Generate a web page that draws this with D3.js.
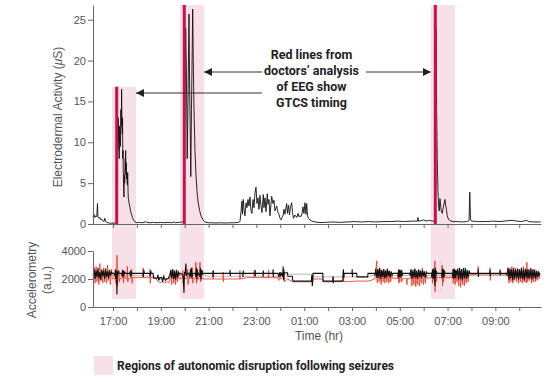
<!DOCTYPE html>
<html><head><meta charset="utf-8">
<script src="https://cdn.jsdelivr.net/npm/d3@7"></script>
<style>
html,body{margin:0;padding:0;background:#fff;}
svg{display:block;}
</style></head>
<body>
<svg id="c" width="558" height="382"></svg>
<script>
// ---------- DATA ----------
const hourTicks = [17,18,19,20,21,22,23,24,25,26,27,28,29,30,31,32,33,34];
const labelHours = [17,19,21,23,25,27,29,31,33];
const hourLabels = ["17:00","19:00","21:00","23:00","01:00","03:00","05:00","07:00","09:00"];
const edaTicks = [0,5,10,15,20,25];
const accTicks = [0,2000,4000];

const seizureTimes = [17.155, 19.983, 30.486];
const seizureTops = [16.8, 26.8, 26.8];
const regionStart = [16.958, 19.803, 30.305];
const regionEnd = [17.962, 20.808, 31.31];
const annotationLines = ["Red lines from","doctors\u2019 analysis","of EEG show","GTCS timing"];
const legendLabel = "Regions of autonomic disruption following seizures";

const eda = [
[16.16,0.9],[16.20,1.2],[16.24,0.8],[16.28,1.0],[16.32,0.9],[16.35,2.5],[16.37,0.9],[16.41,0.7],[16.45,0.8],[16.49,0.5],[16.53,0.6],[16.57,0.4],[16.62,0.3],[16.66,0.7],[16.69,0.3],[16.74,0.2],[16.85,0.1],[16.95,0.1],[17.05,0.1],[17.14,0.15],
[17.16,0.3],[17.18,5],[17.20,12.5],[17.21,9],[17.22,13],[17.235,10],[17.25,12],[17.26,8],[17.275,11],[17.29,12],[17.31,9.5],[17.33,14],[17.35,12],[17.36,16.5],[17.375,12],[17.39,11],[17.40,13],[17.41,8],[17.42,9],[17.43,6.5],[17.445,4.5],[17.46,3.3],[17.475,6],[17.49,5],[17.51,8],[17.52,6.5],[17.53,9],[17.54,6],[17.556,7.5],[17.57,5.5],[17.586,6],[17.60,4.8],[17.615,6.3],[17.63,4],[17.64,3.2],[17.67,2.6],[17.71,2],[17.74,1.5],[17.774,1.2],[17.81,0.8],[17.858,0.5],[17.92,0.25],[18.0,0.15],
[18.1,0.2],[18.2,0.15],[18.3,0.2],[18.35,0.3],[18.4,0.2],[18.55,0.15],[18.7,0.2],[18.85,0.15],[19.0,0.2],[19.15,0.15],[19.3,0.2],[19.45,0.15],[19.55,0.25],[19.6,0.15],[19.75,0.2],[19.9,0.25],[19.97,0.3],
[20.004,12],[20.042,24],[20.075,18],[20.105,8],[20.138,15],[20.18,25.7],[20.209,16],[20.234,11],[20.255,5.8],[20.284,14],[20.335,26.3],[20.36,20],[20.389,14],[20.43,9],[20.473,6],[20.515,4],[20.556,2.8],[20.62,1.7],[20.682,1],[20.766,0.5],[20.849,0.25],[20.975,0.15],
[21.1,0.15],[21.3,0.12],[21.5,0.15],[21.7,0.12],[21.9,0.15],[22.1,0.15],[22.25,0.2],[22.314,0.3],
[22.356,1.5],[22.397,2.8],[22.418,1.2],[22.452,3.0],[22.481,1.8],[22.523,1.0],[22.565,2.6],[22.607,2.0],[22.648,3.0],[22.69,2.2],[22.732,3.3],[22.774,1.6],[22.816,1.3],[22.858,3.0],[22.899,2.0],[22.941,3.8],[22.983,4.5],[23.025,2.5],[23.067,3.2],[23.109,1.8],[23.15,3.5],[23.192,2.2],[23.234,1.4],[23.289,3.6],[23.318,2.0],[23.36,3.2],[23.401,1.5],[23.456,3.7],[23.485,2.4],[23.527,3.0],[23.569,1.0],[23.64,3.4],[23.695,2.5],[23.736,2.9],[23.778,1.6],[23.849,2.2],[23.904,1.4],[23.946,1.2],[23.987,0.7],[24.029,0.5],[24.071,0.8],[24.113,1.0],[24.155,1.8],[24.196,1.2],[24.268,2.5],[24.301,1.3],[24.343,2.3],[24.385,1.1],[24.427,2.1],[24.477,2.6],[24.51,1.4],[24.552,0.7],[24.615,1.1],[24.657,0.9],[24.699,0.8],[24.74,1.3],[24.782,0.9],[24.824,1.0],[24.866,0.9],[24.908,1.2],[24.95,2.1],[24.991,1.3],[25.033,2.6],[25.075,1.2],[25.105,2.5],[25.138,1.0],[25.18,0.7],[25.243,0.5],[25.326,0.35],[25.452,0.25],[25.661,0.18],
[25.9,0.2],[26.2,0.25],[26.5,0.2],[26.8,0.25],[27.1,0.3],[27.4,0.25],[27.7,0.3],[28.0,0.25],[28.3,0.3],[28.6,0.3],[28.9,0.35],[29.2,0.3],[29.5,0.35],[29.74,0.35],[29.76,0.8],[29.78,0.35],[29.9,0.4],[30.0,0.5],[30.1,0.35],[30.2,0.45],[30.3,0.4],[30.4,0.35],[30.47,0.4],
[30.514,24],[30.543,14],[30.568,8],[30.598,4],[30.627,2.2],[30.652,1.6],[30.682,3.1],[30.711,2.2],[30.736,1.6],[30.778,1.3],[30.82,2.0],[30.862,2.6],[30.891,3.0],[30.92,2.3],[30.954,1.8],[30.987,1.0],[31.037,0.6],[31.1,0.4],[31.226,0.3],
[31.4,0.3],[31.6,0.25],[31.8,0.3],[31.9,0.4],[31.93,3.9],[31.96,0.6],[32.0,0.35],
[32.3,0.3],[32.6,0.3],[32.9,0.35],[33.2,0.3],[33.5,0.4],[33.7,0.45],[33.9,0.35],[34.1,0.3],[34.3,0.45],[34.4,0.3],[34.6,0.25],[34.9,0.25]
];

const accGray = [[16.17,2250],[17.9,2250],[18.7,2200],[18.8,2000],[19.35,2000],[19.4,2250],[20.8,2250],[21.0,2200],[24.0,2200],[24.1,2350],[25.3,2350],[25.4,2150],[27.7,2150],[27.8,2250],[34.87,2250]];

const accRed = [
[16.17,2100],[16.21,2800],[16.25,1700],[16.29,2900],[16.33,1800],[16.37,2500],[16.41,1600],[16.45,3100],[16.49,1900],[16.53,2600],[16.57,1700],[16.61,2800],[16.65,1800],[16.69,2500],[16.73,1700],[16.77,3000],[16.81,1900],[16.85,2400],[16.89,1600],[16.93,2700],[16.97,2000],
[17.02,2050],[17.08,2000],[17.10,2500],[17.12,1700],[17.15,2000],[17.17,3700],[17.19,1500],[17.21,2100],[17.25,2600],[17.27,1800],[17.29,2050],[17.38,2050],[17.42,2600],[17.44,1700],[17.46,2400],[17.50,2050],[17.58,2050],[17.60,2900],[17.62,1800],[17.64,2050],[17.76,2050],[17.78,2700],[17.80,1700],[17.82,2100],
[18.25,2100],[18.26,2800],[18.27,2100],[18.54,2100],[18.55,2700],[18.56,1700],[18.57,2100],[18.80,2100],[18.84,1900],[18.96,1750],[19.08,1800],[19.14,1700],[19.26,1800],[19.34,1750],
[19.38,2000],[19.42,2600],[19.46,1600],[19.50,2700],[19.54,1700],[19.58,2500],[19.62,1600],[19.66,2600],[19.70,1800],[19.74,2400],[19.78,2000],
[19.84,2050],[19.90,2050],[19.92,2600],[19.94,1700],[19.96,2050],[20.10,2050],[20.12,2700],[20.14,1600],[20.16,2050],[20.30,2050],[20.32,2800],[20.34,1700],[20.36,2050],[20.45,2050],[20.47,3200],[20.49,1700],[20.51,2300],[20.53,1900],[20.60,2050],[20.62,2700],[20.64,3200],[20.66,1800],[20.68,2400],[20.70,1900],[20.74,2100],[20.81,2000],
[21.18,2000],[21.19,2600],[21.20,2000],[21.60,2000],[21.61,2500],[21.62,1800],[21.63,2000],[22.30,2000],[22.31,2600],[22.32,2000],[22.60,2100],[22.90,2100],[22.91,2600],[22.92,2100],[23.50,2100],[23.51,2650],[23.52,2100],[23.90,2100],[23.94,1900],[24.00,2500],[24.02,2000],[24.14,2100],[24.16,2700],[24.18,1800],[24.30,2000],[24.53,1800],
[25.30,1800],[25.33,2000],[25.78,2000],[25.79,1800],[26.20,1800],[26.21,2200],[26.22,1800],[26.62,1850],[26.64,2500],[26.66,1800],[27.21,1850],[27.66,1850],[27.80,1900],[27.92,2000],
[27.96,2000],[28.00,2600],[28.04,3300],[28.06,1700],[28.10,2700],[28.14,1800],[28.18,2600],[28.22,1600],[28.26,2500],[28.30,1800],[28.34,2700],[28.38,1700],[28.42,2600],[28.46,1800],[28.50,2500],[28.54,1700],[28.58,2400],[28.62,1800],[28.66,2300],[28.71,2050],
[28.92,2050],[28.94,2600],[28.96,1700],[28.98,2500],[29.00,1800],[29.04,2400],[29.08,1800],[29.13,2050],[29.28,2050],[29.30,1600],[29.32,2050],
[29.43,2000],[29.47,2600],[29.51,1500],[29.55,2500],[29.59,1600],[29.63,2700],[29.67,1450],[29.71,2400],[29.75,1600],[29.79,2600],[29.83,1500],[29.87,2500],[29.91,1700],[29.95,2800],[29.99,1600],[30.03,2400],[30.07,1700],[30.11,2300],[30.14,2050],
[30.33,2100],[30.35,2500],[30.37,1700],[30.41,2400],[30.45,1800],[30.47,3300],[30.48,1100],[30.50,2600],[30.52,1800],[30.55,2100],[30.75,2100],[30.77,3000],[30.79,1500],[30.81,2500],[30.83,1800],[30.87,2400],[30.89,2100],[31.20,2100],[31.22,2700],[31.24,1700],[31.28,2600],[31.32,1600],[31.36,2500],[31.39,1800],
[31.42,2700],[31.46,1500],[31.50,2600],[31.54,1400],[31.58,2700],[31.62,1600],[31.66,2800],[31.70,1500],[31.74,2600],[31.78,1700],[31.82,2500],[31.86,1800],[31.90,2400],[31.94,2300],
[32.27,2350],[32.28,2900],[32.29,2350],[32.77,2350],[32.78,2800],[32.79,1900],[32.80,2350],[33.19,2350],[33.20,2700],[33.21,2350],[33.46,2350],
[33.49,2200],[33.53,2800],[33.57,1700],[33.61,2700],[33.65,1800],[33.69,2900],[33.73,1700],[33.77,2600],[33.81,1900],[33.85,2800],[33.89,1800],[33.93,2600],[33.97,1700],[34.01,2700],[34.05,1800],[34.09,2500],[34.13,1700],[34.17,2900],[34.21,1800],[34.25,2600],[34.29,1700],[34.32,3200],[34.35,1800],[34.39,2700],[34.43,1900],[34.47,2800],[34.51,1700],[34.55,2600],[34.59,1800],[34.63,2700],[34.67,1800],[34.71,2500],[34.75,1900],[34.79,2400],[34.83,2000],[34.87,2300]
];

const accBlack = [
[16.17,2300],[16.21,2700],[16.25,2000],[16.29,2600],[16.33,2150],[16.37,2800],[16.41,2050],[16.45,2500],[16.49,1900],[16.53,2700],[16.57,2200],[16.61,2600],[16.65,2000],[16.69,2750],[16.73,2150],[16.77,2550],[16.81,2050],[16.85,2650],[16.89,2250],[16.93,2500],[16.97,2400],
[17.03,2400],[17.08,2250],[17.10,2700],[17.12,2000],[17.14,2600],[17.165,900],[17.18,2500],[17.20,2300],[17.22,2600],[17.24,2400],[17.36,2400],[17.38,2200],[17.40,2650],[17.42,2150],[17.44,2600],[17.46,2300],[17.48,2550],[17.50,2400],[17.69,2400],[17.71,2300],[17.73,2600],[17.75,2150],[17.77,2550],[17.79,2400],
[18.25,2400],[18.27,2150],[18.29,2650],[18.31,2400],[18.54,2400],[18.56,2200],[18.58,2600],[18.60,2400],[18.68,2400],[18.70,2050],[18.84,2050],[18.88,2300],[18.92,1900],[18.96,2100],[19.04,2100],[19.08,1800],[19.12,2200],[19.20,1900],[19.24,2000],[19.32,2050],
[19.38,2300],[19.42,2650],[19.46,2050],[19.50,2700],[19.54,2000],[19.58,2600],[19.62,1950],[19.66,2650],[19.70,2100],[19.74,2500],[19.78,2350],
[19.84,2400],[19.88,2350],[19.93,2300],[19.97,1000],[19.99,2500],[20.01,2300],[20.05,3100],[20.07,2200],[20.09,2400],[20.18,2400],[20.22,2100],[20.24,2700],[20.26,2200],[20.28,2800],[20.30,2100],[20.34,2400],[20.43,2400],[20.47,2200],[20.49,2800],[20.51,2000],[20.53,2700],[20.55,2300],[20.59,2400],[20.64,2150],[20.66,2800],[20.68,2000],[20.70,2650],[20.72,2300],[20.74,2600],[20.76,2350],[20.81,2400],
[21.18,2400],[21.19,2150],[21.20,2600],[21.21,2400],[21.89,2400],[21.90,2650],[21.91,2200],[21.92,2400],[22.43,2400],[22.44,2150],[22.45,2600],[22.46,2400],[22.94,2400],[22.95,2650],[22.96,2200],[22.97,2400],[23.27,2400],[23.28,2150],[23.29,2600],[23.30,2400],[23.69,2400],[23.70,2700],[23.71,2150],[23.72,2400],[23.90,2400],[23.94,2150],[23.98,2500],[24.02,2200],[24.06,2450],[24.10,2150],[24.12,2900],[24.14,1900],[24.16,2450],[24.30,2450],[24.32,2200],[24.50,2200],[24.53,1850],
[25.30,1850],[25.32,2300],[25.34,1500],[25.36,1850],[25.37,2400],[25.78,2400],[25.79,1850],[26.20,1850],[26.21,2150],[26.22,1700],[26.23,1850],[26.62,1850],[26.63,2400],[26.64,2700],[26.66,2100],[26.68,2400],[27.0,2400],[27.01,2700],[27.02,2150],[27.03,2400],[27.2,2400],[27.21,2150],[27.66,2150],[27.67,2400],[27.92,2400],
[27.96,2300],[28.00,2750],[28.04,2050],[28.08,2700],[28.12,2100],[28.16,2800],[28.20,2000],[28.24,2650],[28.28,2150],[28.32,2700],[28.36,2050],[28.40,2600],[28.44,2100],[28.48,2750],[28.52,2200],[28.56,2600],[28.60,2100],[28.64,2550],[28.68,2300],[28.71,2400],
[28.92,2400],[28.94,2100],[28.96,2700],[28.98,2150],[29.00,2650],[29.02,2200],[29.04,2600],[29.06,2100],[29.08,2650],[29.10,2250],[29.13,2400],[29.40,2400],
[29.43,2300],[29.47,2700],[29.51,2000],[29.55,2650],[29.59,2100],[29.63,2750],[29.67,2050],[29.71,2600],[29.75,2000],[29.79,2700],[29.83,2150],[29.87,2600],[29.91,2050],[29.95,2650],[29.99,2200],[30.03,2550],[30.07,2100],[30.11,2500],[30.14,2400],
[30.33,2400],[30.35,2100],[30.37,2700],[30.39,2050],[30.41,2750],[30.43,2000],[30.45,2650],[30.47,1500],[30.49,2800],[30.51,2100],[30.53,2600],[30.55,2400],[30.75,2400],[30.77,2050],[30.79,2750],[30.81,2100],[30.83,2700],[30.85,2150],[30.87,2600],[30.89,2400],[31.20,2400],[31.22,2100],[31.24,2700],[31.26,2000],[31.28,2750],[31.30,2100],[31.32,2650],[31.34,2050],[31.36,2600],[31.39,2300],
[31.42,2750],[31.46,1950],[31.50,2800],[31.54,2000],[31.58,2700],[31.62,1900],[31.66,2750],[31.70,2050],[31.74,2800],[31.78,2000],[31.82,2650],[31.86,2100],[31.90,2600],[31.94,2400],
[32.27,2400],[32.28,2700],[32.29,2150],[32.30,2400],[32.77,2400],[32.78,2650],[32.79,2200],[32.80,2400],[33.19,2400],[33.20,2600],[33.21,2250],[33.22,2400],[33.46,2400],
[33.49,2300],[33.53,2800],[33.57,1950],[33.61,2750],[33.65,2050],[33.69,2700],[33.73,1900],[33.77,2800],[33.81,2000],[33.85,2650],[33.89,2100],[33.93,2750],[33.97,1950],[34.01,2700],[34.05,2050],[34.09,2800],[34.13,2000],[34.17,2650],[34.21,1900],[34.25,2750],[34.29,2100],[34.33,2700],[34.37,2000],[34.41,2650],[34.45,2050],[34.49,2750],[34.53,1950],[34.57,2700],[34.61,2100],[34.65,2650],[34.69,2000],[34.73,2600],[34.77,2150],[34.81,2550],[34.85,2300],[34.87,2400]
];

// ---------- CHART ----------
const svg = d3.select("#c");
const axisFont = "'Liberation Sans', Arial, Helvetica, sans-serif";
const boldFont = "Roboto, 'Open Sans', sans-serif";
const pink = "#f7e0e7";
const crimson = "#c4124a";

const x = d3.scaleLinear().domain([16.163, 34.91]).range([93, 541]);
const yEda = d3.scaleLinear().domain([0, 26.8]).range([224, 5]);
const yAcc = d3.scaleLinear().domain([0, 4000]).range([307, 251]);
const regionBottom = 570; // accelerometry units

// pink regions
svg.append("g").selectAll("rect").data(regionStart).join("rect")
  .attr("x", (d)=>x(d))
  .attr("width", (d,i)=>x(regionEnd[i]) - x(d))
  .attr("y", (d,i)=>yEda(seizureTops[i]))
  .attr("height", (d,i)=>yAcc(regionBottom) - yEda(seizureTops[i]))
  .attr("fill", pink);

// EDA line
svg.append("path").datum(eda)
  .attr("d", d3.line().x(d=>x(d[0])).y(d=>yEda(d[1])))
  .attr("fill","none").attr("stroke","#111").attr("stroke-width",0.9).attr("stroke-linejoin","round");

// red seizure lines
svg.append("g").selectAll("line").data(seizureTimes).join("line")
  .attr("x1", d=>x(d)).attr("x2", d=>x(d))
  .attr("y1", yEda(0)).attr("y2", (d,i)=>yEda(seizureTops[i]))
  .attr("stroke", crimson).attr("stroke-width", 3);

// accelerometry lines
const accLine = d3.line().x(d=>x(d[0])).y(d=>yAcc(d[1]));
svg.append("path").datum(accGray).attr("d", accLine)
  .attr("fill","none").attr("stroke","#b0b0b0").attr("stroke-width",0.9);
svg.append("path").datum(accRed).attr("d", accLine)
  .attr("fill","none").attr("stroke","#e8341c").attr("stroke-width",0.9).attr("stroke-opacity",0.9);
svg.append("path").datum(accBlack).attr("d", accLine)
  .attr("fill","none").attr("stroke","#111").attr("stroke-width",1.1);

// axes
function styleAxis(g){
  g.selectAll("path,line").attr("stroke","#666").attr("stroke-width",1);
  g.selectAll("text").attr("fill","#555").style("font-family", axisFont).style("font-size","11px");
}
const labelFor = h => { const i = labelHours.indexOf(h); return i >= 0 ? hourLabels[i] : ""; };

svg.append("g").attr("transform","translate(0,224)")
  .call(d3.axisBottom(x).tickValues(hourTicks).tickSize(4).tickSizeOuter(0).tickFormat(""))
  .call(styleAxis);
svg.append("g").attr("transform","translate(0,307)")
  .call(d3.axisBottom(x).tickValues(hourTicks).tickSize(4).tickSizeOuter(0).tickPadding(6).tickFormat(labelFor))
  .call(styleAxis);
svg.append("g").attr("transform","translate(93,0)")
  .call(d3.axisLeft(yEda).tickValues(edaTicks).tickSize(5).tickSizeOuter(0).tickPadding(2).tickFormat(d3.format("d")))
  .call(styleAxis);
svg.append("g").attr("transform","translate(93,0)")
  .call(d3.axisLeft(yAcc).tickValues(accTicks).tickSize(5).tickSizeOuter(0).tickPadding(2).tickFormat(d3.format("d")))
  .call(styleAxis);

// axis titles
svg.append("text").attr("transform","translate(62,117) rotate(-90)")
  .attr("text-anchor","middle").attr("fill","#555")
  .style("font-family", axisFont).style("font-size","12px")
  .html("Electrodermal Activity (<tspan font-style='italic'>\u03bc</tspan>S)");
svg.append("text").attr("transform","translate(36,280) rotate(-90)")
  .attr("text-anchor","middle").attr("fill","#555")
  .style("font-family", axisFont).style("font-size","12px").text("Accelerometry");
svg.append("text").attr("transform","translate(51,280) rotate(-90)")
  .attr("text-anchor","middle").attr("fill","#555")
  .style("font-family", axisFont).style("font-size","12px").text("(a.u.)");
svg.append("text").attr("x",319).attr("y",340)
  .attr("text-anchor","middle").attr("fill","#555")
  .style("font-family", axisFont).style("font-size","12px").text("Time (hr)");

// annotation
svg.append("g").selectAll("text").data(annotationLines).join("text")
  .attr("x", 311.5).attr("y", (d,i)=>58.5 + i*16)
  .attr("text-anchor","middle").attr("fill","#222")
  .style("font-family", boldFont).style("font-size","12.5px").style("font-weight","700")
  .text(d=>d);

// arrows
const defs = svg.append("defs");
defs.append("marker").attr("id","ah").attr("viewBox","0 0 10 10")
  .attr("refX",10).attr("refY",5).attr("markerWidth",8).attr("markerHeight",8)
  .attr("markerUnits","userSpaceOnUse").attr("orient","auto")
  .append("path").attr("d","M0,0L10,5L0,10Z").attr("fill","#222");
const arrows = [[262,93,x(regionEnd[0])],[262,72,x(regionEnd[1])],[366,72,x(regionStart[2])]];
svg.append("g").selectAll("line").data(arrows).join("line")
  .attr("x1",d=>d[0]).attr("y1",d=>d[1]).attr("x2",d=>d[2]).attr("y2",d=>d[1])
  .attr("stroke","#333").attr("stroke-width",1).attr("marker-end","url(#ah)");

// legend
svg.append("rect").attr("x",94).attr("y",356).attr("width",19).attr("height",19).attr("fill",pink);
svg.append("text").attr("x",117).attr("y",370).attr("fill","#222")
  .style("font-family", boldFont).style("font-size","12px").style("font-weight","700")
  .text(legendLabel);
</script>
</body></html>
